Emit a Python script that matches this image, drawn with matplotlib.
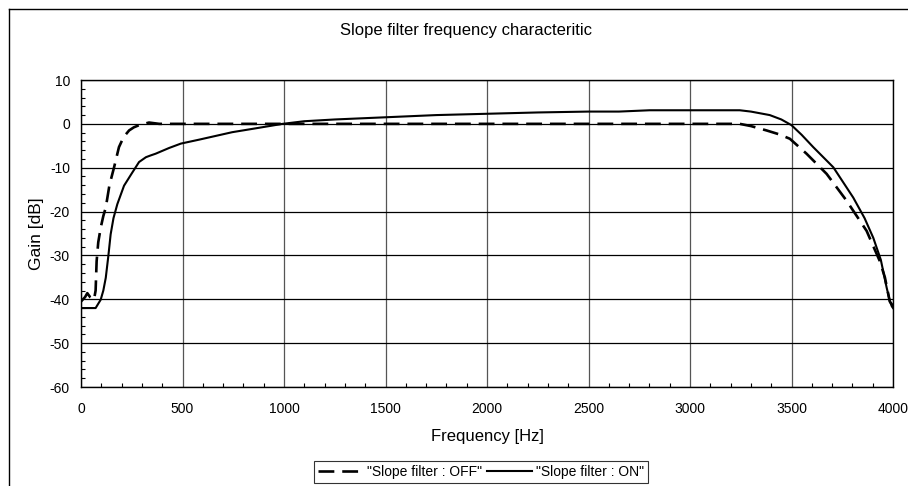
import numpy as np
import matplotlib
matplotlib.use("Agg")
import matplotlib.pyplot as plt
from matplotlib.lines import Line2D
from matplotlib.ticker import MultipleLocator

plt.rcParams['font.family'] = ['Liberation Sans', 'DejaVu Sans']
plt.rcParams['axes.unicode_minus'] = False

# slope filter OFF (dashed)
freq_off = [0, 20, 31, 45, 64, 72, 77, 85, 97, 110, 122, 140, 163, 187, 210,
            237, 260, 286, 335, 385, 500, 1000, 2000, 3000, 3245, 3300, 3377,
            3440, 3492, 3574, 3673, 3771, 3870, 3935, 3960, 3984, 4000]
gain_off = [-40.5, -39.5, -38.6, -39.5, -40.1, -38, -31.3, -27, -23.7, -21,
            -19.1, -14, -9.9, -5.3, -3, -1.5, -0.8, -0.3, 0.3, 0, 0, 0, 0, 0,
            0, -0.5, -1.5, -2.4, -3.4, -6.8, -11.4, -17.5, -24.4, -31.3, -35,
            -40.5, -41.5]

# slope filter ON (solid)
freq_on = [0, 40, 72, 97, 110, 122, 135, 146, 160, 179, 212, 250, 286, 320,
           343, 368, 434, 492, 582, 745, 850, 993, 1100, 1250, 1500, 1750,
           2000, 2250, 2500, 2650, 2801, 3000, 3245, 3300, 3393, 3450, 3500,
           3550, 3607, 3706, 3804, 3860, 3903, 3940, 3969, 3985, 3994, 4000]
gain_on = [-42, -42, -42, -40.1, -38, -35.1, -30, -25.2, -21.5, -18.3, -14.1,
           -11.3, -8.7, -7.6, -7.2, -6.8, -5.5, -4.5, -3.6, -1.9, -1.1, 0, 0.6,
           1.0, 1.5, 2.0, 2.3, 2.6, 2.8, 2.8, 3.1, 3.1, 3.1, 2.8, 2.0, 1.0,
           -0.3, -2.5, -5.3, -9.9, -16.8, -21.5, -26, -31, -37.4, -40.5,
           -41.6, -42]

fig = plt.figure(figsize=(9.08, 4.86), dpi=100)

# outer chart frame, only top and left edges are visible
fx = 8.5 / 908
fy = 1 - 9.5 / 486
fig.add_artist(Line2D([fx, 1.0], [fy, fy], transform=fig.transFigure,
                      color='black', linewidth=1.0))
fig.add_artist(Line2D([fx, fx], [0.0, fy], transform=fig.transFigure,
                      color='black', linewidth=1.0))

ax = fig.add_axes([81 / 908, 1 - 387 / 486, (893 - 81) / 908, (387 - 80) / 486])

ax.plot(freq_off, gain_off, color='black', linewidth=1.9, dashes=(6, 3),
        label='"Slope filter : OFF"')
ax.plot(freq_on, gain_on, color='black', linewidth=1.5,
        label='"Slope filter : ON"')

ax.set_xlim(0, 4000)
ax.set_ylim(-60, 10)
ax.xaxis.set_major_locator(MultipleLocator(500))
ax.xaxis.set_minor_locator(MultipleLocator(100))
ax.yaxis.set_major_locator(MultipleLocator(10))
ax.yaxis.set_minor_locator(MultipleLocator(2))

ax.grid(True, axis='y', which='major', color='black', linewidth=0.9)
ax.grid(True, axis='x', which='major', color='#555555', linewidth=0.9)
ax.set_axisbelow(True)

ax.tick_params(which='major', length=0, labelsize=10)
ax.tick_params(axis='x', which='major', pad=11)
ax.tick_params(axis='y', which='major', pad=8)
ax.tick_params(which='minor', direction='in', length=3, width=0.8)
for s in ax.spines.values():
    s.set_color('black')
    s.set_linewidth(1.0)

ax.set_xlabel('Frequency [Hz]', fontsize=12, labelpad=9)
ax.set_ylabel('Gain [dB]', fontsize=12.5, labelpad=4)

fig.text(466 / 908, 1 - 31 / 486, 'Slope filter frequency characteritic',
         ha='center', va='center', fontsize=12)

leg = fig.legend(loc='upper center', bbox_to_anchor=(481 / 908, 1 - 461 / 486),
                 ncol=2, fontsize=10, frameon=True, fancybox=False,
                 handlelength=3.2, handletextpad=0.3, columnspacing=0.4,
                 borderpad=0.3, borderaxespad=0)
leg.get_frame().set_edgecolor('black')
leg.get_frame().set_linewidth(0.8)

fig.savefig('out.png', dpi=100)
